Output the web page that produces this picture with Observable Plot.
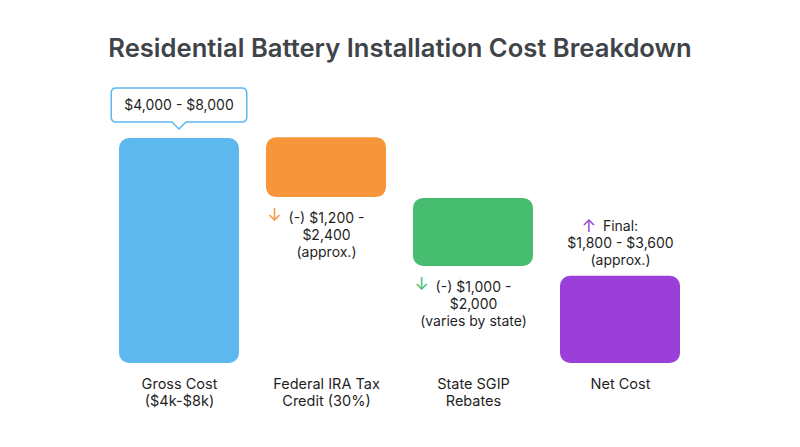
<!DOCTYPE html>
<html>
<head>
<meta charset="utf-8">
<script src="https://cdn.jsdelivr.net/npm/d3@7"></script>
<script src="https://cdn.jsdelivr.net/npm/@observablehq/plot@0.6"></script>
<style>
  html, body { margin: 0; padding: 0; background: #ffffff; }
  body { width: 800px; height: 447px; overflow: hidden; font-family: Inter, "Noto Sans", sans-serif; }
  #title { height: 47px; padding-top: 33px; line-height: 30px; text-align: center;
           font-size: 25.6px; font-weight: 600; color: #3f4449; letter-spacing: 0; }
</style>
</head>
<body>
<div id="title">Residential Battery Installation Cost Breakdown</div>
<div id="chart"></div>
<script>
// ---- data ----
const categories = ["Gross Cost\n($4k-$8k)", "Federal IRA Tax\nCredit (30%)", "State SGIP\nRebates", "Net Cost"];
const barStart = [0, 8030, 5870, 0];      // waterfall bar start (approx. $)
const barEnd   = [8000, 5900, 3450, 3100]; // waterfall bar end (approx. $)
const barColors = ["#5cb8ed", "#f7953a", "#47bd6f", "#9a3fd7"];
const annotations = ["$4,000 - $8,000", "(-) $1,200 -\n$2,400\n(approx.)", "(-) $1,000 -\n$2,000\n(varies by state)", "Final:\n$1,800 - $3,600\n(approx.)"];
const arrows = ["", "↓", "↓", "↑"];

const data = categories.map((c, i) => ({
  category: c, start: barStart[i], end: barEnd[i], color: barColors[i],
  note: annotations[i], arrow: arrows[i]
}));

const FONT = "Inter, 'Noto Sans', sans-serif";
const ctx = document.createElement("canvas").getContext("2d");
function textWidth(s, size) { ctx.font = `${size}px Inter`; return ctx.measureText(s).width; }

const noteSize = 14, noteLH = 1.22;

// callout render mark for the first bar (uses Plot's scales)
function callout(index, scales) {
  const d = data[0];
  const sx = scales.x;
  let bw = sx.bandwidth;
  if (typeof bw === "function") bw = bw();
  if (!(bw > 0)) bw = 0;
  const cx = sx(d.category) + bw / 2;
  const top = scales.y(Math.max(d.start, d.end));
  const w = textWidth(d.note, noteSize) + 26;
  const h = 34, gap = 16, ph = 7, pw = 7, r = 5;
  const x0 = cx - w / 2, x1 = cx + w / 2, y1 = top - gap, y0 = y1 - h;
  const path = `M${x0 + r},${y0} H${x1 - r} Q${x1},${y0} ${x1},${y0 + r} V${y1 - r} Q${x1},${y1} ${x1 - r},${y1}`
    + ` H${cx + pw} L${cx},${y1 + ph} L${cx - pw},${y1} H${x0 + r} Q${x0},${y1} ${x0},${y1 - r} V${y0 + r} Q${x0},${y0} ${x0 + r},${y0} Z`;
  const g = d3.create("svg:g");
  g.append("path").attr("d", path).attr("fill", "#ffffff").attr("stroke", d.color).attr("stroke-width", 1.5);
  g.append("text").attr("x", cx).attr("y", (y0 + y1) / 2).attr("dy", "0.35em")
    .attr("text-anchor", "middle").attr("font-size", noteSize).attr("font-family", FONT)
    .attr("fill", "#1f1f1f").text(d.note);
  return g.node();
}

const noteMarks = [];
data.forEach((d, i) => {
  if (i === 0) return;
  const lines = d.note.split("\n");
  const n = lines.length;
  const descending = d.end < d.start;
  const lhPx = noteSize * noteLH;
  let textOpts, firstCenterDy;
  if (descending) {
    textOpts = { lineAnchor: "top", dy: 13 };
    firstCenterDy = 18;
  } else {
    textOpts = { lineAnchor: "bottom", dy: -11 };
    firstCenterDy = -16 - (n - 1) * lhPx;
  }
  const yVal = descending ? Math.min(d.start, d.end) : Math.max(d.start, d.end);
  noteMarks.push(Plot.text([d], {
    x: "category", y: () => yVal, text: "note",
    fontSize: noteSize, lineHeight: noteLH, fill: "#1f1f1f", textAnchor: "middle",
    ...textOpts
  }));
  const fw = textWidth(lines[0], noteSize);
  noteMarks.push(Plot.text([d], {
    x: "category", y: () => yVal, text: "arrow",
    fontSize: 17, fill: "color", lineAnchor: "middle",
    dx: -(fw / 2 + 14), dy: firstCenterDy
  }));
});

const chart = Plot.plot({
  width: 800,
  height: 367,
  marginTop: 58,
  marginBottom: 84,
  marginLeft: 119,
  marginRight: 120,
  style: { fontFamily: FONT, background: "#ffffff", overflow: "visible" },
  x: { domain: categories, paddingInner: 0.184, paddingOuter: 0, axis: null },
  y: { domain: [0, 8000], axis: null },
  marks: [
    Plot.barY(data, { x: "category", y1: "start", y2: "end", fill: "color", rx: 10 }),
    callout,
    ...noteMarks,
    Plot.text(data, {
      x: "category", y: () => 0, text: "category",
      lineAnchor: "top", dy: 13, fontSize: 14.5, lineHeight: 1.18, fill: "#1f1f1f"
    })
  ]
});
document.getElementById("chart").appendChild(chart);
</script>
</body>
</html>
